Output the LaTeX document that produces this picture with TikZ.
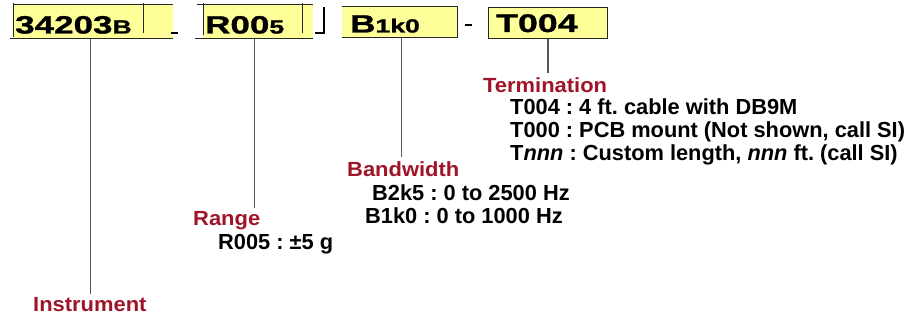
\documentclass[tikz,border=0pt]{standalone}
\usepackage{fontspec}
\setmainfont{Liberation Sans}
\newfontfamily\boxfont[FakeStretch=1.4,BoldFeatures={FakeBold=1.2}]{Liberation Sans}
\newfontfamily\labfont[FakeStretch=1.07]{Liberation Sans}
\definecolor{boxyellow}{HTML}{FFFF99}
\definecolor{labred}{HTML}{A01428}
\definecolor{conngray}{HTML}{555555}
\tikzset{
  boxbg/.style={rectangle, fill=boxyellow, draw=none, inner sep=0pt, anchor=north west},
  bord/.style={draw=black!85, line width=1pt},
  sep/.style={draw=black, line width=2pt},
  conn/.style={draw=conngray, line width=1.3pt},
  big/.style={inner sep=0pt, anchor=base west, font=\boxfont\bfseries\fontsize{25}{27}\selectfont},
  lab/.style={inner sep=0pt, anchor=base west, text=labred, font=\labfont\bfseries\fontsize{20.5}{24}\selectfont},
  desc/.style={inner sep=0pt, anchor=base west, font=\bfseries\fontsize{21.8}{24}\selectfont},
}
\newcommand{\sm}[1]{{\fontsize{19}{20}\selectfont #1}}
\frenchspacing
\begin{document}
\begin{tikzpicture}[x=1pt,y=-1pt]
\useasboundingbox (0,0) rectangle (914,320);
% boxes
\node[boxbg, minimum width=160pt, minimum height=34pt] (b1) at (13,5) {};
\node[boxbg, minimum width=110pt, minimum height=34pt] (b2) at (203,5) {};
\node[boxbg, minimum width=115pt, minimum height=31pt] (b3) at (342,7) {};
\node[boxbg, minimum width=119pt, minimum height=31pt, draw=black!85, line width=1pt] (b4) at (488,7) {};
% box 1 borders
\draw[bord] (13,5) -- (173,5);
\draw[bord] (10,39) -- (173,39);
\draw[bord] (13,3) -- (13,37);
\draw[bord] (143,3) -- (143,33);
% separator 1
\draw[sep] (171,33) -- (178,33);
% box 2 borders
\draw[bord] (197,5) -- (313,5);
\draw[bord] (195,39) -- (313,39);
\draw[bord] (203,3) -- (203,35);
\draw[bord] (302,3) -- (302,33);
% separator 2
\draw[sep, line cap=rect] (316,33) -- (324,33) -- (324,8);
% box 3 borders
\draw[bord] (342,7) -- (457,7) -- (457,38) -- (342,38);
% separator 3
\draw[sep, line width=2.5pt] (465,25) -- (472,25);
% box texts
\node[big] (t1) at (15,33.5) {34203\sm{B}};
\node[big] (t2) at (205,33.5) {R00\sm{5}};
\node[big] (t3) at (350,32.5) {B\sm{1k0}};
\node[big, font=\boxfont\bfseries\fontsize{25.5}{27}\selectfont] (t4) at (496,32) {T004};
% labels
\node[lab] (ins) at (33,312) {Instrument};
\node[lab] (rng) at (193,226) {Range};
\node[desc] (r1) at (218,250) {R005 : ±5 g};
\node[lab] (bw) at (347,177) {Bandwidth};
\node[desc] (bw1) at (372,201) {B2k5 : 0 to 2500 Hz};
\node[desc] (bw2) at (365,224) {B1k0 : 0 to 1000 Hz};
\node[lab] (term) at (483,93) {Termination};
\node[desc] (tm1) at (510,115) {T004 : 4 ft. cable with DB9M};
\node[desc] (tm2) at (510,138) {T000 : PCB mount (Not shown, call SI)};
\node[desc] (tm3) at (510,161) {T\textit{nnn} : Custom length, \textit{nnn} ft. (call SI)};
% connectors
\draw[conn] ([xshift=-3pt]b1.south) -- ([xshift=-3pt,yshift=4pt]b1.south |- ins.north);
\draw[conn] ([xshift=-4pt]b2.south) -- ([xshift=-4pt,yshift=4pt]b2.south |- rng.north);
\draw[conn] ([xshift=2pt]b3.south) -- ([xshift=2pt,yshift=5pt]b3.south |- bw.north);
\draw[conn] (b4.south) -- ([yshift=5pt]b4.south |- term.north);
\end{tikzpicture}
\end{document}
